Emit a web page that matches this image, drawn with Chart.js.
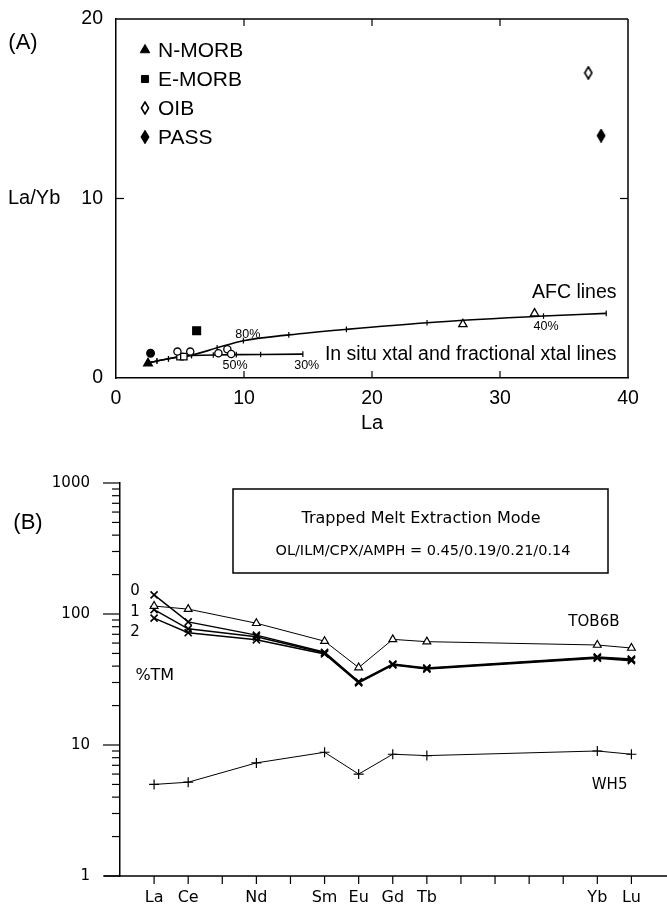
<!DOCTYPE html>
<html>
<head>
<meta charset="utf-8">
<script src="https://cdn.jsdelivr.net/npm/chart.js@4.4.1/dist/chart.umd.min.js"></script>
<style>
  html, body { margin: 0; padding: 0; background: #fff; }
  #wrap { position: relative; width: 667px; height: 913px; overflow: hidden; }
  #chartA { position: absolute; left: 0; top: 0; }
  #chartB { position: absolute; left: 0; top: 460px; }
</style>
</head>
<body>
<div id="wrap">
  <canvas id="chartA" width="667" height="450"></canvas>
  <canvas id="chartB" width="667" height="453"></canvas>
</div>
<script>
// ---- Panel A data: [La, La/Yb] ----
const nMorb = [[2.5, 0.82]]
const eMorb = [[6.3, 2.63]]
const oib = [[36.9, 17.0]]
const pass = [[37.9, 13.5]]
const filledCircles = [[2.7, 1.38]]
const openCircles = [[4.8, 1.47], [5.8, 1.47], [8.0, 1.38], [8.7, 1.6], [9.0, 1.34]]
const openSquares = [[5.0, 1.19], [5.3, 1.19]]
const openTriangles = [[27.1, 3.0], [32.7, 3.6]]
const afcLine = [[2.6, 0.85], [3.2, 0.95], [4.1, 1.07], [5.0, 1.19], [5.9, 1.27], [7.9, 1.68],
  [9.95, 2.08], [13.5, 2.4], [18.0, 2.71], [24.3, 3.08], [33.4, 3.45], [38.3, 3.6]]
const inSituLine = [[2.6, 0.85], [3.2, 0.95], [4.1, 1.07], [5.0, 1.19], [5.9, 1.25], [7.6, 1.28],
  [9.4, 1.3], [11.3, 1.31], [14.6, 1.33]]
const laTicks = [0, 10, 20, 30, 40]
const ratioTicks = [0, 10, 20]

// ---- Panel B data: chondrite-normalised REE ----
const reeElements = ['La', 'Ce', 'Pr', 'Nd', 'Pm', 'Sm', 'Eu', 'Gd', 'Tb', 'Dy', 'Ho', 'Er', 'Tm', 'Yb', 'Lu']
const reeTickLabels = ['La', 'Ce', '', 'Nd', '', 'Sm', 'Eu', 'Gd', 'Tb', '', '', '', '', 'Yb', 'Lu']
const tob6b = [115, 109, null, 85, null, 62, 39, 64, 61.5, null, null, null, null, 58, 55]
const tm0 = [140, 87, null, 69, null, 51, 30.5, 41.5, 38.7, null, null, null, null, 47, 45.3]
const tm1 = [108, 77, null, 67, null, 50.4, 30.2, 41.2, 38.4, null, null, null, null, 46.5, 44.8]
const tm2 = [93, 72, null, 63.5, null, 49.5, 29.8, 40.8, 38, null, null, null, null, 46, 44]
const wh5 = [5.0, 5.2, null, 7.3, null, 8.8, 6.0, 8.5, 8.3, null, null, null, null, 9.0, 8.5]
const logTicks = [1, 10, 100, 1000]

const FONT_A = '"Liberation Sans", Arial, sans-serif'
const FONT_B = '"DejaVu Sans", Verdana, sans-serif'

const toXY = pairs => pairs.map(([x, y]) => ({ x, y }))
const reeSeries = vals => reeElements.map((_, i) => ({ x: i + 1, y: vals[i] })).filter(p => p.y !== null)

// scale boxes with fixed size and no label-overflow padding
const fixBox = (w, h) => s => {
  if (w !== null) s.width = w
  if (h !== null) s.height = h
  s.paddingTop = 0
  s.paddingBottom = 0
  s.paddingLeft = 0
  s.paddingRight = 0
}

function diamondImage(filled) {
  const c = document.createElement('canvas')
  c.width = 10
  c.height = 14
  const g = c.getContext('2d')
  g.beginPath()
  g.moveTo(5, 1)
  g.lineTo(8.6, 7)
  g.lineTo(5, 13)
  g.lineTo(1.4, 7)
  g.closePath()
  g.fillStyle = filled ? '#000' : '#fff'
  g.fill()
  g.lineWidth = 1.6
  g.strokeStyle = '#000'
  g.stroke()
  return c
}

function text(ctx, str, x, y, font, align = 'center') {
  ctx.save()
  ctx.font = font
  ctx.fillStyle = '#000'
  ctx.textAlign = align
  ctx.textBaseline = 'middle'
  ctx.fillText(str, x, y)
  ctx.restore()
}

function line(ctx, x1, y1, x2, y2, w = 1.5) {
  ctx.save()
  ctx.strokeStyle = '#000'
  ctx.lineWidth = w
  ctx.beginPath()
  ctx.moveTo(x1, y1)
  ctx.lineTo(x2, y2)
  ctx.stroke()
  ctx.restore()
}

// frame, inner ticks, legend and labels for panel A
const panelAPlugin = {
  id: 'panelA',
  afterDraw(chart) {
    const { ctx, chartArea: a, scales: { x, y } } = chart
    line(ctx, a.left, a.top, a.right, a.top)
    line(ctx, a.right, a.top, a.right, a.bottom)
    laTicks.slice(1, -1).forEach(v => {
      const px = x.getPixelForValue(v)
      line(ctx, px, a.bottom, px, a.bottom - 7, 1.2)
      line(ctx, px, a.top, px, a.top + 7, 1.2)
    })
    ratioTicks.slice(1, -1).forEach(v => {
      const py = y.getPixelForValue(v)
      line(ctx, a.left, py, a.left + 8, py, 1.2)
      line(ctx, a.right, py, a.right - 8, py, 1.2)
    })

    // legend
    chart.data.datasets.filter(d => d.inLegend).forEach((d, i) => {
      const cy = a.top + 31 + i * 29
      ctx.save()
      ctx.fillStyle = d.backgroundColor
      ctx.strokeStyle = d.borderColor
      ctx.lineWidth = 1
      Chart.helpers.drawPoint(ctx, { pointStyle: d.pointStyle, radius: d.legendRadius, rotation: 0, borderWidth: 1 }, a.left + 29, cy)
      ctx.restore()
      text(ctx, d.label, a.left + 42, cy + 1, '21px ' + FONT_A, 'left')
    })

    const small = '12.5px ' + FONT_A
    const big = '19.5px ' + FONT_A
    text(ctx, '80%', x.getPixelForValue(10.3), y.getPixelForValue(2.4), small)
    text(ctx, '50%', x.getPixelForValue(9.3), y.getPixelForValue(0.72), small)
    text(ctx, '30%', x.getPixelForValue(14.9), y.getPixelForValue(0.72), small)
    text(ctx, '40%', x.getPixelForValue(33.6), y.getPixelForValue(2.84), small)
    text(ctx, 'AFC lines', x.getPixelForValue(35.8), y.getPixelForValue(4.73), big)
    text(ctx, 'In situ xtal and fractional xtal lines', x.getPixelForValue(39.1), y.getPixelForValue(1.28), big, 'right')

    text(ctx, '(A)', 23, 43, '22px ' + FONT_A)
    text(ctx, 'La/Yb', 8, y.getPixelForValue(10), '20px ' + FONT_A, 'left')
    text(ctx, 'La', (a.left + a.right) / 2, 423, '20px ' + FONT_A)
  }
}

// axes, box and labels for panel B
const panelBPlugin = {
  id: 'panelB',
  afterDraw(chart) {
    const { ctx, chartArea: a, scales: { x, y } } = chart
    line(ctx, 104, a.bottom, chart.width, a.bottom)
    reeElements.forEach((_, i) => {
      const px = x.getPixelForValue(i + 1)
      line(ctx, px, a.bottom, px, a.bottom + 8, 1.2)
    })
    for (let d = 1; d < 1000; d *= 10) {
      for (let m = 1; m <= 9; m++) {
        const py = y.getPixelForValue(d * m)
        line(ctx, a.left - (m === 1 ? 17 : 8), py, a.left, py, 1.2)
      }
    }
    const top = y.getPixelForValue(1000)
    line(ctx, a.left - 17, top, a.left, top, 1.2)

    // mode box
    ctx.save()
    ctx.strokeStyle = '#000'
    ctx.lineWidth = 1.5
    ctx.strokeRect(233, 29, 375, 84)
    ctx.restore()
    text(ctx, 'Trapped Melt Extraction Mode', 421, 59, '16px ' + FONT_B)
    text(ctx, 'OL/ILM/CPX/AMPH = 0.45/0.19/0.21/0.14', 423, 91, '14.5px ' + FONT_B)

    const f = '15px ' + FONT_B
    text(ctx, '0', x.getPixelForValue(0.44), y.getPixelForValue(150), f)
    text(ctx, '1', x.getPixelForValue(0.44), y.getPixelForValue(104), f)
    text(ctx, '2', x.getPixelForValue(0.44), y.getPixelForValue(73), f)
    text(ctx, '%TM', x.getPixelForValue(1.02), y.getPixelForValue(34), '16px ' + FONT_B)
    text(ctx, 'TOB6B', x.getPixelForValue(13.9), y.getPixelForValue(87), f)
    text(ctx, 'WH5', x.getPixelForValue(14.36), y.getPixelForValue(4.95), f)
    text(ctx, '(B)', 28, 63, '22px ' + FONT_A)
  }
}

const pt = (style, radius, fill, extra = {}) => Object.assign({
  pointStyle: style, pointRadius: radius, backgroundColor: fill, pointBackgroundColor: fill,
  borderColor: '#000', pointBorderColor: '#000', pointBorderWidth: 1.3, showLine: false
}, extra)

new Chart(document.getElementById('chartA'), {
  type: 'scatter',
  data: {
    datasets: [
      Object.assign({ label: 'N-MORB', data: toXY(nMorb), inLegend: true, legendRadius: 5.5 }, pt('triangle', 5, '#000')),
      Object.assign({ label: 'E-MORB', data: toXY(eMorb), inLegend: true, legendRadius: 5 }, pt('rect', 5.5, '#000')),
      Object.assign({ label: 'OIB', data: toXY(oib), inLegend: true, legendRadius: 5 }, pt(diamondImage(false), 6, '#fff')),
      Object.assign({ label: 'PASS', data: toXY(pass), inLegend: true, legendRadius: 5 }, pt(diamondImage(true), 6, '#000')),
      Object.assign({ label: 'filled circles', data: toXY(filledCircles) }, pt('circle', 3.8, '#000')),
      Object.assign({ label: 'open circles', data: toXY(openCircles) }, pt('circle', 3.6, '#fff')),
      Object.assign({ label: 'open squares', data: toXY(openSquares) }, pt('rect', 4.5, '#fff')),
      Object.assign({ label: 'open triangles', data: toXY(openTriangles) }, pt('triangle', 4.8, '#fff')),
      Object.assign({ label: 'AFC', data: toXY(afcLine) },
        pt('line', 2.8, '#000', { showLine: true, borderWidth: 1.6, pointRotation: 90, pointBorderWidth: 1.2, cubicInterpolationMode: 'monotone' })),
      Object.assign({ label: 'In situ', data: toXY(inSituLine) },
        pt('line', 2.8, '#000', { showLine: true, borderWidth: 1.6, pointRotation: 90, pointBorderWidth: 1.2 }))
    ]
  },
  options: {
    responsive: false,
    animation: false,
    events: [],
    layout: { padding: { top: 19, right: 39, left: 0, bottom: 0 } },
    plugins: { legend: { display: false }, tooltip: { enabled: false } },
    scales: {
      x: {
        type: 'linear', min: 0, max: 40,
        afterBuildTicks: s => { s.ticks = laTicks.map(v => ({ value: v })) },
        afterFit: fixBox(null, 72),
        ticks: { color: '#000', font: { family: FONT_A, size: 19.5 }, padding: 9, maxRotation: 0, autoSkip: false },
        grid: { display: false, drawTicks: false },
        border: { display: true, color: '#000', width: 1.5 }
      },
      y: {
        type: 'linear', min: 0, max: 20,
        afterBuildTicks: s => { s.ticks = ratioTicks.map(v => ({ value: v })) },
        afterFit: fixBox(116, null),
        ticks: { color: '#000', font: { family: FONT_A, size: 19.5 }, padding: 13, autoSkip: false },
        grid: { display: false, drawTicks: false },
        border: { display: true, color: '#000', width: 1.5 }
      }
    }
  },
  plugins: [panelAPlugin]
})

new Chart(document.getElementById('chartB'), {
  type: 'scatter',
  data: {
    datasets: [
      Object.assign({ label: 'TOB6B', data: reeSeries(tob6b) },
        pt('triangle', 4.5, '#fff', { showLine: true, borderWidth: 1, pointBorderWidth: 1.2 })),
      Object.assign({ label: '0 %TM', data: reeSeries(tm0) },
        pt('crossRot', 5, '#000', { showLine: true, borderWidth: 1.5, pointBorderWidth: 1.6 })),
      Object.assign({ label: '1 %TM', data: reeSeries(tm1) },
        pt('crossRot', 5, '#000', { showLine: true, borderWidth: 1.5, pointBorderWidth: 1.6 })),
      Object.assign({ label: '2 %TM', data: reeSeries(tm2) },
        pt('crossRot', 5, '#000', { showLine: true, borderWidth: 1.5, pointBorderWidth: 1.6 })),
      Object.assign({ label: 'WH5', data: reeSeries(wh5) },
        pt('cross', 5, '#000', { showLine: true, borderWidth: 1, pointBorderWidth: 1.2 }))
    ]
  },
  options: {
    responsive: false,
    animation: false,
    events: [],
    layout: { padding: { top: 23, right: 5, left: 0, bottom: 0 } },
    plugins: { legend: { display: false }, tooltip: { enabled: false } },
    scales: {
      x: {
        type: 'linear', min: 0, max: 15.85,
        afterBuildTicks: s => { s.ticks = reeElements.map((_, i) => ({ value: i + 1 })) },
        afterFit: fixBox(null, 37),
        ticks: {
          color: '#000', font: { family: FONT_B, size: 16 }, padding: 12, maxRotation: 0, autoSkip: false,
          callback: v => reeTickLabels[v - 1] || ''
        },
        grid: { display: false, drawTicks: false },
        border: { display: false }
      },
      y: {
        type: 'logarithmic', min: 1, max: 1000,
        afterBuildTicks: s => { s.ticks = logTicks.map(v => ({ value: v })) },
        afterFit: fixBox(120, null),
        ticks: { color: '#000', font: { family: FONT_B, size: 15 }, padding: 30, autoSkip: false, callback: v => String(v) },
        grid: { display: false, drawTicks: false },
        border: { display: true, color: '#000', width: 1.5 }
      }
    }
  },
  plugins: [panelBPlugin]
})
</script>
</body>
</html>
